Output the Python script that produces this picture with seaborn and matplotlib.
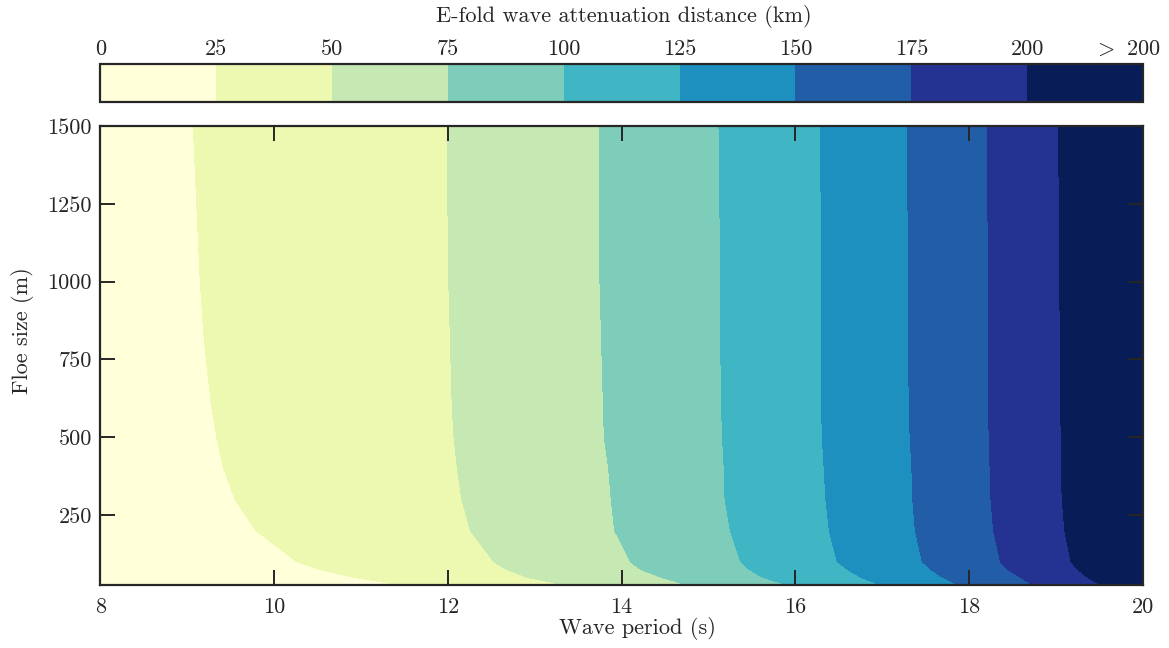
import numpy as np
import matplotlib
matplotlib.use("Agg")
import matplotlib.pyplot as plt
import seaborn as sns
from matplotlib import transforms

# ---------------- data ----------------
floe_size = [25, 50, 75, 100, 200, 300, 400, 500, 600, 800, 1000, 1500]  # m

# wave period (s) at which the e-fold attenuation distance reaches each level
period_at_25km  = [11.45, 10.91, 10.53, 10.26, 9.79, 9.55, 9.42, 9.34, 9.28, 9.20, 9.15, 9.07]
period_at_50km  = [13.34, 12.91, 12.68, 12.53, 12.26, 12.16, 12.11, 12.07, 12.05, 12.03, 12.01, 11.99]
period_at_75km  = [14.76, 14.45, 14.22, 14.10, 13.92, 13.88, 13.85, 13.80, 13.79, 13.77, 13.75, 13.74]
period_at_100km = [15.91, 15.62, 15.47, 15.37, 15.25, 15.19, 15.18, 15.16, 15.15, 15.14, 15.14, 15.12]
period_at_125km = [16.98, 16.75, 16.60, 16.48, 16.39, 16.35, 16.33, 16.31, 16.30, 16.30, 16.30, 16.29]
period_at_150km = [17.88, 17.69, 17.56, 17.46, 17.38, 17.35, 17.34, 17.32, 17.31, 17.30, 17.30, 17.29]
period_at_175km = [18.73, 18.59, 18.44, 18.36, 18.28, 18.25, 18.24, 18.23, 18.22, 18.22, 18.22, 18.21]
period_at_200km = [19.51, 19.36, 19.25, 19.17, 19.10, 19.07, 19.06, 19.06, 19.05, 19.05, 19.04, 19.03]

period_min, period_max = 8.0, 20.0
dist_at_period_min = 0.0
dist_at_period_max = 225.0

level_edges = [0, 25, 50, 75, 100, 125, 150, 175, 200, 225]
level_labels = ["0", "25", "50", "75", "100", "125", "150", "175", "200", r"$>$ 200"]

period_ticks = [8, 10, 12, 14, 16, 18, 20]
floe_ticks = [250, 500, 750, 1000, 1250, 1500]

# ---------------- build curvilinear grid ----------------
n = len(floe_size)
boundaries = [period_at_25km, period_at_50km, period_at_75km, period_at_100km,
              period_at_125km, period_at_150km, period_at_175km, period_at_200km]
X = np.column_stack([np.full(n, period_min)] + [np.asarray(b) for b in boundaries]
                    + [np.full(n, period_max)])
Y = np.repeat(np.asarray(floe_size, float)[:, None], X.shape[1], axis=1)
row_vals = [dist_at_period_min] + level_edges[1:-1] + [dist_at_period_max]
Z = np.tile(np.asarray(row_vals, float), (n, 1))

# ---------------- style ----------------
sns.set_style("ticks")
plt.rcParams.update({
    "font.family": "cmr10",
    "mathtext.fontset": "cm",
    "axes.formatter.use_mathtext": True,
    "axes.unicode_minus": False,
    "axes.axisbelow": False,
})
cmap = matplotlib.colormaps["YlGnBu"]
colors = [cmap(v) for v in np.linspace(0, 1, len(level_edges) - 1)]
edge_col = "#262626"

W, H = 1169, 648
fig = plt.figure(figsize=(W / 100, H / 100), dpi=100)
L, R = 100.3, 1143.0
ax = fig.add_axes([L / W, 1 - 585 / H, (R - L) / W, (585 - 126) / H])
cax = fig.add_axes([L / W, 1 - 102 / H, (R - L) / W, (102 - 63.5) / H])

cs = ax.contourf(X, Y, Z, levels=level_edges, colors=colors, zorder=0.5)
ax.set_axisbelow(False)
ax.set_xlim(period_min, period_max)
ax.set_ylim(25, 1500)
ax.set_xticks(period_ticks)
ax.set_xticklabels([str(t) for t in period_ticks])
ax.set_yticks(floe_ticks)
ax.set_yticklabels([str(t) for t in floe_ticks])
ax.tick_params(direction="in", length=11, width=1.4, color=edge_col,
               top=True, right=True, labelsize=16)
ax.tick_params(axis="x", pad=9)
ax.tick_params(axis="y", pad=6)
for s in ax.spines.values():
    s.set_linewidth(1.6)
    s.set_color(edge_col)
    s.set_zorder(3)

ax.set_xlabel("Wave period (s)", fontsize=16)
ax.xaxis.set_label_coords((637 - L) / (R - L), (585 - 617) / 459)
ax.set_ylabel("Floe size (m)", fontsize=16)
ax.yaxis.set_label_coords((34 - L) / (R - L), (585 - 331) / 459)

cbar = fig.colorbar(cs, cax=cax, orientation="horizontal", ticks=level_edges)
cax.xaxis.set_ticks_position("top")
cax.set_xticklabels(level_labels)
cax.tick_params(length=0, pad=3, labelsize=16)
cbar.outline.set_linewidth(1.6)
cbar.outline.set_edgecolor(edge_col)
last = cax.get_xticklabels()[-1]
last.set_transform(last.get_transform() +
                   transforms.ScaledTranslation(-16 / 100, 0, fig.dpi_scale_trans))

fig.text(624 / W, 1 - 17 / H, "E-fold wave attenuation distance (km)",
         ha="center", va="center", fontsize=16)

fig.savefig("out.png", dpi=100)
